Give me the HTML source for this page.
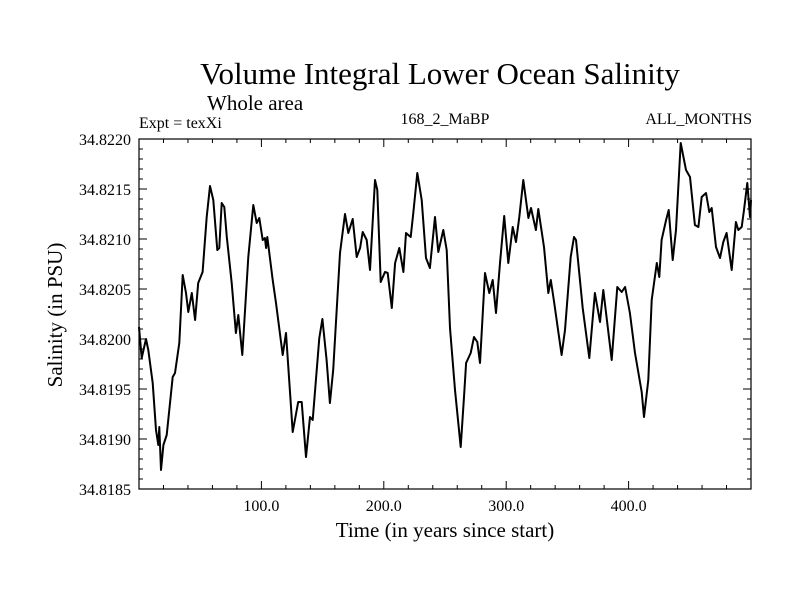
<!DOCTYPE html>
<html><head><meta charset="utf-8"><style>
body{margin:0;background:#fff;}
svg text{font-family:"Liberation Serif",serif;fill:#000;}
</style></head><body>
<svg id="chart" width="800" height="600" viewBox="0 0 800 600" xmlns="http://www.w3.org/2000/svg">
<rect width="800" height="600" fill="#fff"/>
<text x="440" y="84" font-size="31" text-anchor="middle">Volume Integral Lower Ocean Salinity</text>
<text x="207" y="110" font-size="21">Whole area</text>
<text x="139" y="128" font-size="16">Expt = texXi</text>
<text x="445" y="124" font-size="16" text-anchor="middle">168_2_MaBP</text>
<text x="752" y="124" font-size="16" text-anchor="end">ALL_MONTHS</text>
<text x="445" y="537" font-size="21" text-anchor="middle">Time (in years since start)</text>
<text transform="translate(62,315) rotate(-90)" font-size="21" text-anchor="middle">Salinity (in PSU)</text>
<g id="axes"></g>
<g id="series"></g>
<rect x="139" y="139" width="612" height="350" fill="none" stroke="#000" stroke-width="1.2"/>
</svg>
<script>
const years=[0,2.2,5.7,7.6,11.2,13.9,15.8,16.6,18.0,19.9,22.6,27.5,29.4,32.9,35.7,38.4,40.3,43.1,45.8,48.4,52.0,55.3,58.0,60.7,64.0,65.6,67.6,69.7,71.7,75.7,79.2,81.1,84.4,89.3,93.4,96.2,98.3,101.1,102.9,103.8,104.8,109.2,111.9,117.4,120.1,125.6,130.1,132.9,136.4,139.7,141.9,147.3,149.8,153.3,156.0,158.7,164.2,168.3,171.0,174.6,177.9,180.6,182.8,186.0,188.7,192.8,194.7,197.5,201.0,203.2,206.5,209.2,212.7,216.0,218.1,222.0,224.1,227.4,231.0,234.5,237.7,241.8,244.5,248.6,251.4,254.1,258.2,262.8,265.5,267.2,271.0,273.7,276.4,278.6,282.7,286.2,289.0,291.7,294.9,298.4,301.7,305.3,308.0,310.7,314.0,318.1,320.3,324.3,326.2,330.9,334.4,336.4,339.1,345.3,348.0,352.7,355.4,357.0,362.5,367.9,372.5,376.6,379.3,386.2,390.8,394.4,397.1,401.1,405.2,410.7,412.6,416.1,418.9,423.0,425.1,427.0,430.6,432.8,436.0,438.7,442.6,446.9,450.2,454.2,457.0,459.7,463.2,465.9,467.9,471.4,474.7,477.4,480.1,484.2,487.7,489.6,492.4,494.3,497.0,499.2,500];
const salinity=[34.82012,34.81981,34.82000,34.81989,34.81956,34.81909,34.81894,34.81912,34.81869,34.81894,34.81904,34.81962,34.81966,34.81996,34.82064,34.82046,34.82027,34.82046,34.82019,34.82056,34.82067,34.82122,34.82153,34.82139,34.82089,34.82091,34.82136,34.82132,34.82102,34.82056,34.82006,34.82024,34.81984,34.82082,34.82134,34.82116,34.82121,34.82099,34.82101,34.82091,34.82102,34.82059,34.82036,34.81984,34.82006,34.81907,34.81937,34.81937,34.81882,34.81922,34.81919,34.82001,34.82020,34.81979,34.81936,34.81969,34.82086,34.82125,34.82106,34.82120,34.82082,34.82091,34.82107,34.82099,34.82069,34.82159,34.82149,34.82057,34.82067,34.82066,34.82031,34.82076,34.82091,34.82067,34.82106,34.82102,34.82126,34.82166,34.82139,34.82081,34.82071,34.82122,34.82087,34.82109,34.82089,34.82011,34.81949,34.81892,34.81942,34.81976,34.81986,34.82002,34.81997,34.81976,34.82066,34.82046,34.82059,34.82026,34.82076,34.82123,34.82076,34.82112,34.82097,34.82122,34.82159,34.82121,34.82131,34.82109,34.82130,34.82092,34.82046,34.82059,34.82037,34.81984,34.82009,34.82082,34.82102,34.82099,34.82031,34.81981,34.82046,34.82017,34.82049,34.81979,34.82052,34.82047,34.82052,34.82026,34.81986,34.81947,34.81922,34.81959,34.82039,34.82076,34.82062,34.82099,34.82119,34.82129,34.82079,34.82109,34.82196,34.82169,34.82162,34.82114,34.82112,34.82142,34.82146,34.82127,34.82131,34.82092,34.82081,34.82097,34.82106,34.82069,34.82117,34.82109,34.82112,34.82129,34.82156,34.82122,34.82139];
const xTickLabels=["100.0","200.0","300.0","400.0"];
const xTickValues=[100,200,300,400];
const yTickLabels=["34.8185","34.8190","34.8195","34.8200","34.8205","34.8210","34.8215","34.8220"];
const yTickValues=[34.8185,34.8190,34.8195,34.8200,34.8205,34.8210,34.8215,34.8220];

const L=139,R=751,T=139,B=489,X0=0,X1=500,Y0=34.8185,Y1=34.8220;
function sx(v){return L+(v-X0)/(X1-X0)*(R-L);}
function sy(v){return B-(v-Y0)/(Y1-Y0)*(B-T);}
const NS="http://www.w3.org/2000/svg";
const axes=document.getElementById('axes');
function mk(tag,attrs,parent){const e=document.createElementNS(NS,tag);for(const k in attrs)e.setAttribute(k,attrs[k]);parent.appendChild(e);return e;}
// minor x ticks every 20 years
for(let v=20;v<X1;v+=20){
  const major=v%100===0,len=major?8:4,x=sx(v);
  const t1=mk('line',{x1:x,x2:x,y1:B,y2:B-len,stroke:'#000','stroke-width':1},axes);
  
  
  const t2=mk('line',{x1:x,x2:x,y1:T,y2:T+len,stroke:'#000','stroke-width':1},axes);
  
  
}
xTickValues.forEach((v,i)=>{
  const t=mk('text',{x:sx(v),y:511,'font-size':16,'text-anchor':'middle'},axes);
  t.textContent=xTickLabels[i];
  
  
});
for(let k=1;k<35;k++){
  const v=Y0+k*0.0001,y=sy(v),major=k%5===0,len=major?8:4;
  const t1=mk('line',{x1:L,x2:L+len,y1:y,y2:y,stroke:'#000','stroke-width':1},axes);
  
  
  const t2=mk('line',{x1:R,x2:R-len,y1:y,y2:y,stroke:'#000','stroke-width':1},axes);
  
  
}
yTickValues.forEach((v,i)=>{
  const t=mk('text',{x:131,y:sy(v)+6,'font-size':16,'text-anchor':'end'},axes);
  t.textContent=yTickLabels[i];
  
  
});
const d=years.map((t,i)=>(i?'L':'M')+sx(t).toFixed(1)+','+sy(salinity[i]).toFixed(1)).join(' ');
const p=mk('path',{d:d,fill:'none',stroke:'#000','stroke-width':2,'stroke-linejoin':'round'},document.getElementById('series'));


</script>
</body></html>
